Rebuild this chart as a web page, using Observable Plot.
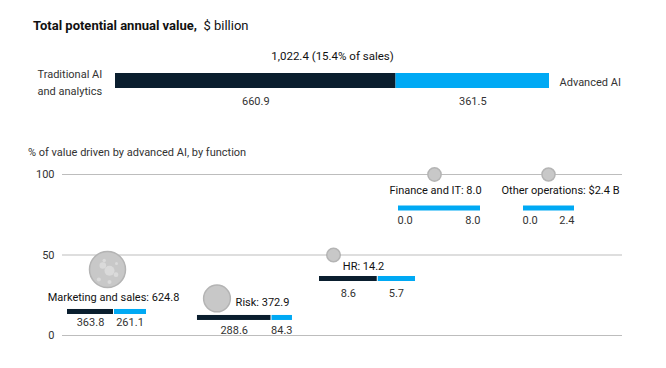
<!DOCTYPE html>
<html><head><meta charset="utf-8">
<script src="https://cdn.jsdelivr.net/npm/d3@7"></script>
<script src="https://cdn.jsdelivr.net/npm/@observablehq/plot@0.6"></script>
<style>
body{margin:0;background:#fff;font-family:Roboto,"Liberation Sans",sans-serif;color:#222}
#wrap{position:relative;width:666px;height:368px;overflow:hidden;background:#fff}
#title{position:absolute;left:33px;top:18px;font-size:13px;font-weight:700;color:#111;white-space:nowrap}
#title span{font-weight:400}
#sub{position:absolute;left:28px;top:146px;font-size:11px;color:#333;white-space:nowrap}
#top{position:absolute;left:0;top:0}
#bottom{position:absolute;left:0;top:130px}
</style></head><body>
<div id="wrap">
  <div id="top"></div>
  <div id="bottom"></div>
  <div id="title">Total potential annual value,&nbsp; <span>$ billion</span></div>
  <div id="sub">% of value driven by advanced AI, by function</div>
</div>
<script>
// ---------- data ----------
const overallSegments = ["Traditional AI and analytics", "Advanced AI"];
const overallValues = [660.9, 361.5];
const overallLabel = "1,022.4 (15.4% of sales)";

const functions = ["Marketing and sales", "Risk", "HR", "Finance and IT", "Other operations"];
const traditionalValues = [363.8, 288.6, 8.6, 0.0, 0.0];
const advancedValues = [261.1, 84.3, 5.7, 8.0, 2.4];
const totalLabels = ["624.8", "372.9", "14.2", "8.0", "$2.4 B"];
const pctAdvanced = [41, 23, 50, 100, 100];
const yTicks = [0, 50, 100];

// ---------- layout (pixels, relative to each bubble) ----------
const slotPos = [0, 0.993, 2.05, 2.966, 4];
const labelDx = [6, 45.5, 30, 1, 12];
const labelDy = [28, 3.5, 11, 16, 16];
const barDx = [-40, -19.5, -14, -37, -26];
const barLen = [79, 95, 96, 83, 52];
const barDy = [42.5, 19.5, 24, 34, 34];
const valueDy = [53, 31.5, 38, 46, 46];
const barH = 5;

const DARK = "#0a1e2e", BLUE = "#00a9f4", FONT = "Roboto, 'Liberation Sans', sans-serif";

// ---------- top bar ----------
const total = d3.sum(overallValues);
const seg = overallSegments.map((s, i) => ({
  s, row: "all", v: overallValues[i],
  x1: d3.sum(overallValues.slice(0, i)), x2: d3.sum(overallValues.slice(0, i + 1))
}));
const topPlot = Plot.plot({
  width: 666, height: 120, marginLeft: 115, marginRight: 117, marginTop: 73, marginBottom: 32,
  x: {domain: [0, total], axis: null},
  y: {domain: ["all"], axis: null, padding: 0},
  color: {domain: overallSegments, range: [DARK, BLUE]},
  style: {fontFamily: FONT, fontSize: "11px", color: "#222", background: "transparent"},
  marks: [
    Plot.barX(seg, {x1: "x1", x2: "x2", y: "row", fill: "s"}),
    Plot.ruleX([seg[1]], {x: "x1", y: "row", stroke: "#c9d3da", strokeWidth: 1.3}),
    Plot.text([overallLabel], {x: () => total / 2, y: () => "all", text: d => d, dy: -25, fill: "#111", fontSize: 11.5}),
    Plot.text(seg, {x: d => (d.x1 + d.x2) / 2, y: "row", text: d => d.v.toFixed(1), dy: 20, fill: "#333"}),
    Plot.text(["Traditional AI\nand analytics"], {x: () => 0, y: () => "all", text: d => d, textAnchor: "start", dx: -78, dy: 0, lineHeight: 1.5, fill: "#333"}),
    Plot.text([overallSegments[1]], {x: () => total, y: () => "all", text: d => d, textAnchor: "start", dx: 10, dy: 1.5, fill: "#333"})
  ]
});
document.getElementById("top").appendChild(topPlot);

// ---------- bottom bubbles ----------
const W = 666, H = 238, mT = 44, mB = 33, mL = 62, mR = 44;
const xRange = [107, 548];
const pxPerSlot = (xRange[1] - xRange[0]) / 4;
const pxPerUnit = (H - mT - mB) / 100;
const sx = px => px / pxPerSlot, sy = px => px / pxPerUnit;

const rows = functions.map((f, i) => {
  const trad = traditionalValues[i], adv = advancedValues[i], tot = trad + adv;
  const x0 = slotPos[i] + sx(barDx[i]);
  const xm = x0 + sx(barLen[i] * trad / tot);
  const xe = x0 + sx(barLen[i]);
  const p = pctAdvanced[i];
  return {
    f, trad, adv, tot, pct: p, slot: slotPos[i],
    label: `${f}: ${totalLabels[i]}`,
    lx: slotPos[i] + sx(labelDx[i]), ly: p - sy(labelDy[i]),
    x0, xm, xe,
    by1: p - sy(barDy[i] - barH / 2), by2: p - sy(barDy[i] + barH / 2),
    vy: p - sy(valueDy[i])
  };
});
const maxTot = d3.max(rows, d => d.tot);
const biggest = rows.filter(d => d.tot === maxTot);
const texture = [
  {dx: 2, dy: 1.2, r: 5}, {dx: -4.7, dy: -4, r: 3.3}, {dx: 8.5, dy: 5.2, r: 2.4},
  {dx: -8.7, dy: 10, r: 2}, {dx: -3.3, dy: -9, r: 1.7}, {dx: 2, dy: 12.5, r: 2}, {dx: 9, dy: -6, r: 1.5}
];

const bottomPlot = Plot.plot({
  width: W, height: H, marginTop: mT, marginBottom: mB, marginLeft: mL, marginRight: mR,
  x: {domain: [0, 4], range: xRange, axis: null},
  y: {domain: [0, 100], ticks: yTicks, tickSize: 0, tickPadding: 8, label: null},
  r: {type: "linear", domain: [0, maxTot], range: [6.5, 18]},
  style: {fontFamily: FONT, fontSize: "11px", color: "#333", background: "transparent"},
  marks: [
    Plot.ruleY(yTicks, {stroke: "#bdbdbd", strokeWidth: 1}),
    Plot.dot(rows, {x: "slot", y: "pct", r: "tot", fill: "#c8c8c8", stroke: "#b4b4b4", strokeWidth: 1.5}),
    ...texture.map(t => Plot.dot(biggest, {x: "slot", y: "pct", r: t.r, dx: t.dx, dy: t.dy, fill: "#dadada", stroke: "none"})),
    Plot.text(rows, {x: "lx", y: "ly", text: "label", fill: "#111"}),
    Plot.rect(rows, {x1: "x0", x2: "xm", y1: "by1", y2: "by2", fill: DARK}),
    Plot.rect(rows, {x1: "xm", x2: "xe", y1: "by1", y2: "by2", fill: BLUE, insetLeft: 1}),
    Plot.text(rows.filter(d => d.trad > 0), {x: d => (d.x0 + d.xm) / 2, y: "vy", text: d => d.trad.toFixed(1), fill: "#333"}),
    Plot.text(rows.filter(d => d.trad > 0), {x: d => (d.xm + d.xe) / 2, y: "vy", text: d => d.adv.toFixed(1), fill: "#333"}),
    Plot.text(rows.filter(d => d.trad === 0), {x: "x0", y: "vy", text: d => d.trad.toFixed(1), textAnchor: "start", fill: "#333"}),
    Plot.text(rows.filter(d => d.trad === 0), {x: "xe", y: "vy", text: d => d.adv.toFixed(1), textAnchor: "end", fill: "#333"})
  ]
});
document.getElementById("bottom").appendChild(bottomPlot);
</script>
</body></html>
